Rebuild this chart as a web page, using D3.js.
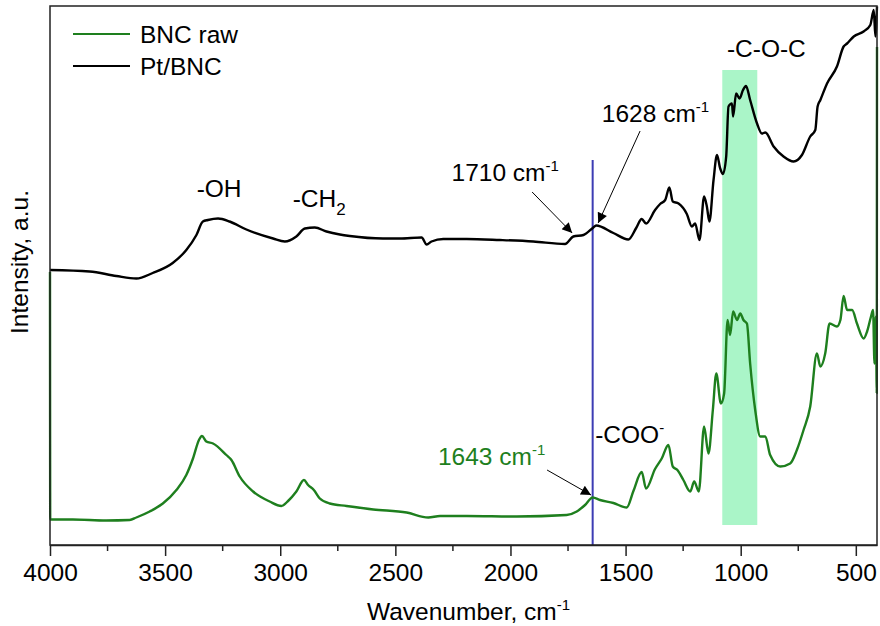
<!DOCTYPE html>
<html>
<head>
<meta charset="utf-8">
<script src="https://cdn.jsdelivr.net/npm/d3@7"></script>
<style>
  body { margin: 0; background: #fff; }
  text { font-family: Arial, "Liberation Sans", sans-serif; }
</style>
</head>
<body>
<div id="chart"></div>
<script>
// FTIR spectra, [wavenumber cm-1, intensity a.u.]
var ptBnc = [
  [4000, 0.550], [3828, 0.547], [3712, 0.538], [3625, 0.533], [3554, 0.544], [3467, 0.564],
  [3408, 0.590], [3364, 0.620], [3336, 0.647], [3314, 0.650], [3270, 0.653], [3220, 0.647],
  [3147, 0.631], [3031, 0.613], [2980, 0.607], [2930, 0.617], [2893, 0.633], [2850, 0.635],
  [2799, 0.627], [2741, 0.621], [2698, 0.618], [2554, 0.613], [2480, 0.613], [2386, 0.615],
  [2364, 0.601], [2343, 0.607], [2292, 0.612], [2190, 0.612], [2046, 0.610], [1901, 0.607],
  [1763, 0.602], [1727, 0.617], [1683, 0.620], [1640, 0.635], [1628, 0.639], [1553, 0.624],
  [1488, 0.611], [1454, 0.634], [1430, 0.652], [1411, 0.643], [1372, 0.670], [1350, 0.682],
  [1328, 0.690], [1310, 0.715], [1295, 0.687], [1270, 0.683], [1234, 0.662], [1212, 0.637],
  [1198, 0.643], [1179, 0.610], [1159, 0.697], [1147, 0.677], [1136, 0.647], [1118, 0.730],
  [1103, 0.780], [1089, 0.753], [1077, 0.742], [1063, 0.777], [1053, 0.877], [1038, 0.883],
  [1033, 0.857], [1020, 0.903], [1005, 0.893], [990, 0.910], [977, 0.918], [959, 0.890],
  [929, 0.843], [908, 0.823], [893, 0.825], [857, 0.797], [814, 0.777], [770, 0.767],
  [734, 0.780], [698, 0.817], [676, 0.830], [666, 0.877], [654, 0.890], [625, 0.923],
  [582, 0.957], [553, 0.997], [538, 1.003], [509, 1.017], [466, 1.027], [437, 1.040],
  [422, 1.070], [415, 1.017], [408, 1.077]
];

var bncRaw = [
  [4000, 0.546], [3999, 0.051], [3901, 0.051], [3756, 0.049], [3654, 0.050], [3625, 0.055],
  [3567, 0.067], [3510, 0.083], [3451, 0.110], [3408, 0.140], [3379, 0.173], [3353, 0.210],
  [3340, 0.218], [3321, 0.207], [3292, 0.203], [3234, 0.180], [3212, 0.170], [3176, 0.137],
  [3118, 0.107], [3046, 0.087], [2995, 0.078], [2966, 0.088], [2930, 0.107], [2897, 0.130],
  [2879, 0.120], [2854, 0.110], [2828, 0.093], [2785, 0.083], [2712, 0.078], [2596, 0.071],
  [2451, 0.065], [2357, 0.055], [2306, 0.058], [2190, 0.058], [1973, 0.057], [1756, 0.060],
  [1712, 0.067], [1676, 0.080], [1643, 0.095], [1611, 0.090], [1553, 0.084], [1495, 0.075],
  [1466, 0.108], [1430, 0.146], [1411, 0.113], [1372, 0.152], [1343, 0.173], [1314, 0.200],
  [1295, 0.157], [1275, 0.150], [1249, 0.130], [1219, 0.107], [1202, 0.127], [1182, 0.107],
  [1159, 0.237], [1140, 0.183], [1121, 0.270], [1106, 0.343], [1086, 0.283], [1072, 0.303],
  [1057, 0.450], [1046, 0.420], [1033, 0.467], [1016, 0.450], [1002, 0.463], [988, 0.450],
  [973, 0.443], [959, 0.363], [937, 0.270], [915, 0.217], [893, 0.217], [872, 0.180],
  [828, 0.157], [785, 0.163], [756, 0.190], [727, 0.230], [698, 0.277], [669, 0.383],
  [654, 0.357], [633, 0.383], [614, 0.443], [582, 0.437], [567, 0.450], [553, 0.498],
  [538, 0.470], [516, 0.470], [495, 0.443], [466, 0.413], [451, 0.427], [434, 0.457],
  [425, 0.470], [419, 0.363], [413, 0.457], [409, 0.304], [408, 0.996]
];

var seriesNames = ["BNC raw", "Pt/BNC"];
var seriesColors = ["#1e7f1e", "#000000"];
var majorTicks = [4000, 3500, 3000, 2500, 2000, 1500, 1000, 500];
var minorTicks = [3750, 3250, 2750, 2250, 1750, 1250, 750];
var cocBand = [1080, 928];      // shaded -C-O-C region
var markerWn = 1643;            // vertical marker line

// [text, superscript, subscript, wavenumber, intensity, colour]
var labels = [
  ["-OH", "", "", 3363, 0.696, "#000"],
  ["-CH", "", "2", 2946, 0.676, "#000"],
  ["1710 cm", "-1", "", 2256, 0.728, "#000"],
  ["1628 cm", "-1", "", 1603, 0.846, "#000"],
  ["-C-O-C", "", "", 1060, 0.976, "#000"],
  ["-COO", "-", "", 1632, 0.204, "#000"],
  ["1643 cm", "-1", "", 2315, 0.160, "#1e7f1e"]
];
// arrows: [fromWn, fromI, toWn, toI]
var arrows = [
  [1906, 0.706, 1732, 0.624],
  [1437, 0.828, 1619, 0.644],
  [1841, 0.150, 1650, 0.100]
];

var W = 880, H = 626;
var margin = {top: 6, right: 3, bottom: 81, left: 50};
var width = W - margin.left - margin.right,
    height = H - margin.top - margin.bottom;

var svg = d3.select("#chart").append("svg")
    .attr("width", W)
    .attr("height", H);

var g = svg.append("g")
    .attr("transform", "translate(" + margin.left + "," + margin.top + ")");

var x = d3.scaleLinear().domain([4000, 408]).range([0, width]);
var y = d3.scaleLinear().domain([0, 1.078]).range([height, 0]);

// shaded band
g.append("rect")
    .attr("x", x(cocBand[0]))
    .attr("width", x(cocBand[1]) - x(cocBand[0]))
    .attr("y", y(0.95))
    .attr("height", y(0.04) - y(0.95))
    .attr("fill", "#aaf5c8");

// blue marker
g.append("line")
    .attr("x1", x(markerWn)).attr("x2", x(markerWn))
    .attr("y1", y(0.77)).attr("y2", height)
    .attr("stroke", "#3c3cb4")
    .attr("stroke-width", 2);

var line = d3.line()
    .curve(d3.curveMonotoneX)
    .x(function(d) { return x(d[0]); })
    .y(function(d) { return y(d[1]); });

g.append("path")
    .datum(ptBnc)
    .attr("d", line)
    .attr("fill", "none")
    .attr("stroke", seriesColors[1])
    .attr("stroke-width", 2.4)
    .attr("stroke-linejoin", "round");

g.append("path")
    .datum(bncRaw)
    .attr("d", line)
    .attr("fill", "none")
    .attr("stroke", seriesColors[0])
    .attr("stroke-width", 2.4)
    .attr("stroke-linejoin", "round");

// frame
g.append("rect")
    .attr("width", width).attr("height", height)
    .attr("fill", "none")
    .attr("stroke", "#222")
    .attr("stroke-width", 1.5);

// x axis
var xAxis = g.append("g")
    .attr("transform", "translate(0," + height + ")")
    .call(d3.axisBottom(x).tickValues(majorTicks).tickSize(11).tickSizeOuter(0).tickFormat(d3.format("d")));
xAxis.select(".domain").attr("stroke", "#222").attr("stroke-width", 1.5);
xAxis.selectAll(".tick line").attr("stroke", "#222").attr("stroke-width", 1.5);
xAxis.selectAll(".tick text")
    .attr("font-size", 24.5)
    .attr("font-family", "Arial, 'Liberation Sans', sans-serif")
    .attr("fill", "#000")
    .attr("y", 19)
    .attr("dy", "0.71em");

g.append("g")
    .attr("transform", "translate(0," + height + ")")
    .selectAll("line")
    .data(minorTicks)
  .enter().append("line")
    .attr("x1", function(d) { return x(d); })
    .attr("x2", function(d) { return x(d); })
    .attr("y1", 0).attr("y2", 6)
    .attr("stroke", "#222").attr("stroke-width", 1.5);

// axis titles
var xt = svg.append("text")
    .attr("x", 367).attr("y", 620)
    .attr("font-size", 24.5);
xt.append("tspan").text("Wavenumber, cm");
xt.append("tspan").text("-1").attr("font-size", 15).attr("dy", -10);

svg.append("text")
    .attr("transform", "translate(28,262) rotate(-90)")
    .attr("text-anchor", "middle")
    .attr("font-size", 24.5)
    .text("Intensity, a.u.");

// annotations
labels.forEach(function(l) {
  var t = g.append("text")
      .attr("x", x(l[3])).attr("y", y(l[4]))
      .attr("font-size", 24.5)
      .attr("fill", l[5]);
  t.append("tspan").text(l[0]);
  if (l[1]) t.append("tspan").text(l[1]).attr("font-size", 15).attr("dy", -10);
  if (l[2]) t.append("tspan").text(l[2]).attr("font-size", 17).attr("dy", 8);
});

svg.append("defs").append("marker")
    .attr("id", "head")
    .attr("viewBox", "0 0 10 10")
    .attr("refX", 10).attr("refY", 5)
    .attr("markerWidth", 14).attr("markerHeight", 10)
    .attr("markerUnits", "userSpaceOnUse")
    .attr("orient", "auto")
  .append("path")
    .attr("d", "M0,0 L10,5 L0,10 z")
    .attr("fill", "#000");

g.selectAll(".arrow")
    .data(arrows)
  .enter().append("line")
    .attr("class", "arrow")
    .attr("x1", function(d) { return x(d[0]); })
    .attr("y1", function(d) { return y(d[1]); })
    .attr("x2", function(d) { return x(d[2]); })
    .attr("y2", function(d) { return y(d[3]); })
    .attr("stroke", "#000")
    .attr("stroke-width", 1)
    .attr("marker-end", "url(#head)");

// legend
var legend = g.append("g").attr("transform", "translate(23,28)");
seriesNames.forEach(function(name, i) {
  legend.append("line")
      .attr("x1", 0).attr("x2", 57)
      .attr("y1", i * 32).attr("y2", i * 32)
      .attr("stroke", seriesColors[i])
      .attr("stroke-width", 2);
  legend.append("text")
      .attr("x", 67).attr("y", i * 32 + 9)
      .attr("font-size", 24.5)
      .text(name);
});
</script>
</body>
</html>
